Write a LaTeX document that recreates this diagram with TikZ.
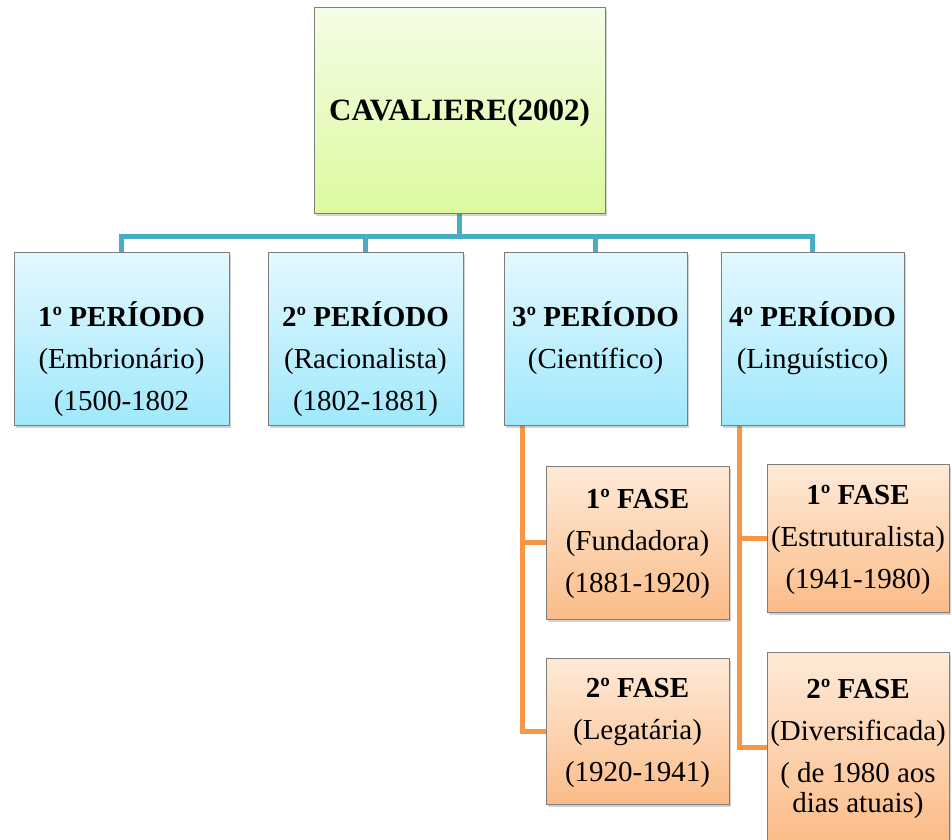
\documentclass[tikz,border=0pt]{standalone}
\usepackage{fontspec}
\setmainfont{Liberation Serif}
\usetikzlibrary{shadows,calc,backgrounds}
\definecolor{blueline}{RGB}{75,172,198}
\definecolor{orangeline}{RGB}{247,150,70}
\definecolor{greentop}{RGB}{244,253,230}
\definecolor{greenbot}{RGB}{219,250,158}
\definecolor{bluetop}{RGB}{228,248,254}
\definecolor{bluebot}{RGB}{160,232,252}
\definecolor{orangetop}{RGB}{254,234,216}
\definecolor{orangebot}{RGB}{251,188,136}
\definecolor{boxborder}{RGB}{125,125,125}
\begin{document}
\begin{tikzpicture}[x=1pt,y=-1pt,
  box/.style={draw=boxborder, line width=1pt, inner sep=0pt,
    drop shadow={shadow xshift=1.5pt, shadow yshift=-3pt, opacity=0.25, fill=black!70}},
  gbox/.style={box, top color=greentop, bottom color=greenbot},
  bbox/.style={box, top color=bluetop, bottom color=bluebot},
  obox/.style={box, top color=orangetop, bottom color=orangebot},
  txt/.style={inner sep=0pt, align=center, font=\fontsize{29}{42}\selectfont},
  busline/.style={line width=5pt, draw=blueline},
  orline/.style={line width=5pt, draw=orangeline}
]
\useasboundingbox (0,0) rectangle (952,839);

% top
\node[gbox, minimum width=291pt, minimum height=206pt] (top) at (459.5,110) {};
\node[inner sep=0pt, anchor=base, font=\bfseries\fontsize{31}{36}\selectfont] (toptxt) at (459.5,120) {CAVALIERE(2002)};

% periods
\node[bbox, minimum width=215pt, minimum height=173pt] (p1) at (121.5,338.5) {};
\node[bbox, minimum width=195pt, minimum height=173pt] (p2) at (365.5,338.5) {};
\node[bbox, minimum width=183pt, minimum height=173pt] (p3) at (595.5,338.5) {};
\node[bbox, minimum width=183pt, minimum height=173pt] (p4) at (812.5,338.5) {};

\node[txt, anchor=north] (p1t) at (121.5,296.6) {\strut\textbf{1º PERÍODO}\\\strut(Embrionário)\\\strut(1500-1802};
\node[txt, anchor=north] (p2t) at (365.5,296.6) {\strut\textbf{2º PERÍODO}\\\strut(Racionalista)\\\strut(1802-1881)};
\node[txt, anchor=north] (p3t) at (595.5,296.6) {\strut\textbf{3º PERÍODO}\\\strut(Científico)};
\node[txt, anchor=north] (p4t) at (812.5,296.6) {\strut\textbf{4º PERÍODO}\\\strut(Linguístico)};

% phases
\node[obox, minimum width=183pt, minimum height=153pt] (a1) at (637.5,542.5) {};
\node[obox, minimum width=183pt, minimum height=146pt] (a2) at (637.5,731) {};
\node[obox, minimum width=182pt, minimum height=148pt] (b1) at (858,538) {};
\node[obox, minimum width=182pt, minimum height=190pt] (b2) at (858,747) {};

\node[txt] (a1t) at (a1.center) {\strut\textbf{1º FASE}\\\strut(Fundadora)\\\strut(1881-1920)};
\node[txt] (a2t) at (a2.center) {\strut\textbf{2º FASE}\\\strut(Legatária)\\\strut(1920-1941)};
\node[txt] (b1t) at (b1.center) {\strut\textbf{1º FASE}\\\strut(Estruturalista)\\\strut(1941-1980)};
\node[txt, anchor=north] (b2t) at (858,668.6) {\strut\textbf{2º FASE}\\\strut(Diversificada)};
\node[inner sep=0pt, align=center, anchor=north, font=\fontsize{29}{30}\selectfont] (b2u) at (858,762) {\rule{0pt}{20pt}( de 1980 aos\\dias atuais)};

% connectors
\begin{scope}[on background layer]
\coordinate (bus) at (460,236);
\draw[busline] (top.south) -- (top.south |- bus);
\draw[busline] (p1.north) |- (bus) -| (p4.north);
\draw[busline] (p2.north) -- (p2.north |- bus);
\draw[busline] (p3.north) -- (p3.north |- bus);
\coordinate (o3) at ($(p3.south west)+(19,0)$);
\coordinate (o4) at ($(p4.south west)+(19,0)$);
\draw[orline] (o3) |- (a2.west);
\draw[orline] (a1.west) -- (a1.west -| o3);
\draw[orline] (o4) |- (b2.west);
\draw[orline] (b1.west) -- (b1.west -| o4);
\end{scope}
\end{tikzpicture}
\end{document}
